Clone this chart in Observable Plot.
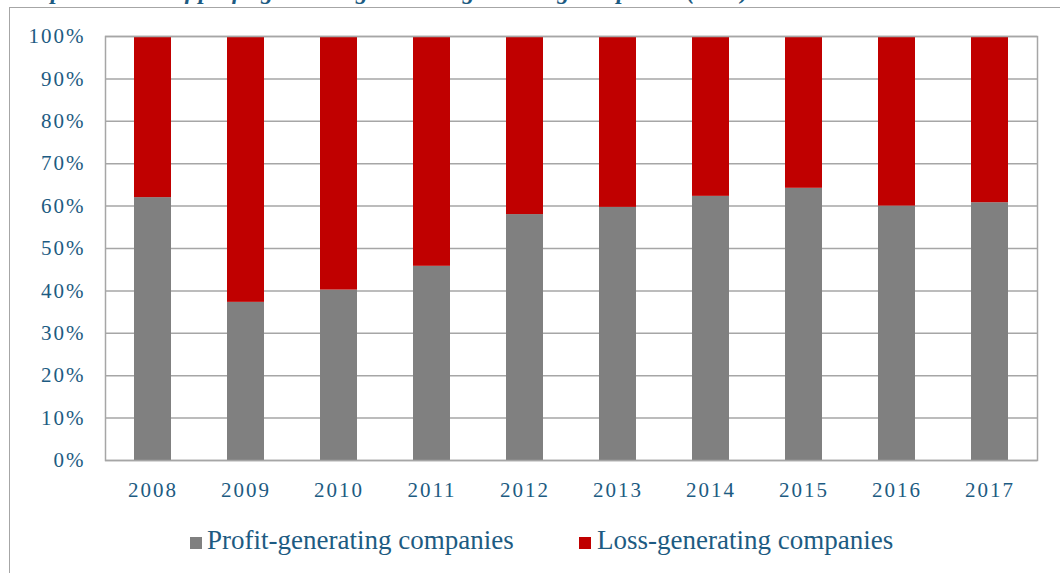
<!DOCTYPE html>
<html>
<head>
<meta charset="utf-8">
<script src="https://cdn.jsdelivr.net/npm/d3@7"></script>
<script src="https://cdn.jsdelivr.net/npm/@observablehq/plot@0.6"></script>
<style>
  html, body { margin: 0; padding: 0; background: #fff; }
  #wrap { position: relative; width: 1060px; height: 573px; overflow: hidden; font-family: "Liberation Serif", "DejaVu Serif", serif; }
  #frame { position: absolute; left: 9px; top: 7px; width: 1100px; height: 700px; border-left: 1.5px solid #a6a6a6; border-top: 1.5px solid #a6a6a6; }
  #title { position: absolute; left: 12px; top: -23px; font-size: 24px; line-height: 28px; font-weight: bold; font-style: italic; color: #1d5b82; white-space: nowrap; }
  #chart { position: absolute; left: 0; top: 0; }
  #chart svg { background: transparent !important; }
  #chart svg text { letter-spacing: 2px; }
  .sw { position: absolute; width: 12px; height: 12px; top: 537px; }
  .lt { position: absolute; top: 527px; font-size: 27px; line-height: 27px; color: #1d5b82; white-space: nowrap; }
</style>
</head>
<body>
<div id="wrap">
  <div id="frame"></div>
  <div id="title">Graph 5: Share of profit-generating and loss-generating companies (in %)</div>
  <div id="chart"></div>
  <div id="legend"></div>
</div>
<script>
const years = ["2008", "2009", "2010", "2011", "2012", "2013", "2014", "2015", "2016", "2017"];
const profitShare = [62.0, 37.3, 40.2, 45.8, 58.0, 59.7, 62.3, 64.2, 60.0, 60.8];
const lossShare = [38.0, 62.7, 59.8, 54.2, 42.0, 40.3, 37.7, 35.8, 40.0, 39.2];
const seriesNames = ["Profit-generating companies", "Loss-generating companies"];
const seriesColors = ["#808080", "#c00000"];
const yTicks = [0, 10, 20, 30, 40, 50, 60, 70, 80, 90, 100];

const rows = [];
years.forEach((y, i) => {
  rows.push({year: y, series: seriesNames[0], value: profitShare[i]});
  rows.push({year: y, series: seriesNames[1], value: lossShare[i]});
});

const textColor = "#1d5b82";
const plot = Plot.plot({
  width: 1060,
  height: 510,
  marginTop: 36,
  marginBottom: 50,
  marginLeft: 105,
  marginRight: 23,
  style: {fontFamily: '"Liberation Serif", "DejaVu Serif", serif', fontSize: "21px", color: textColor, background: "transparent"},
  x: {domain: years, paddingInner: 0.6, paddingOuter: 0.3, label: null},
  y: {domain: [0, 100], label: null},
  color: {domain: seriesNames, range: seriesColors},
  marks: [
    Plot.gridY(yTicks, {stroke: "#a6a6a6", strokeOpacity: 1, strokeWidth: 1.5}),
    Plot.barY(rows, Plot.stackY({x: "year", y: "value", fill: "series", order: seriesNames})),
    Plot.frame({stroke: "#a6a6a6", strokeWidth: 1.5}),
    Plot.axisY(yTicks, {tickSize: 0, tickPadding: 20, tickFormat: d => d + "%", fill: textColor, fontSize: 21, label: null}),
    Plot.axisX({tickSize: 0, tickPadding: 22, fill: textColor, fontSize: 21, label: null})
  ]
});
document.getElementById("chart").appendChild(plot);

const legend = document.getElementById("legend");
const swatchX = [190, 579];
const textX = [207, 597];
seriesNames.forEach((name, i) => {
  const sw = document.createElement("div");
  sw.className = "sw";
  sw.style.left = swatchX[i] + "px";
  sw.style.background = seriesColors[i];
  legend.appendChild(sw);
  const t = document.createElement("div");
  t.className = "lt";
  t.style.left = textX[i] + "px";
  t.textContent = name;
  legend.appendChild(t);
});
</script>
</body>
</html>
